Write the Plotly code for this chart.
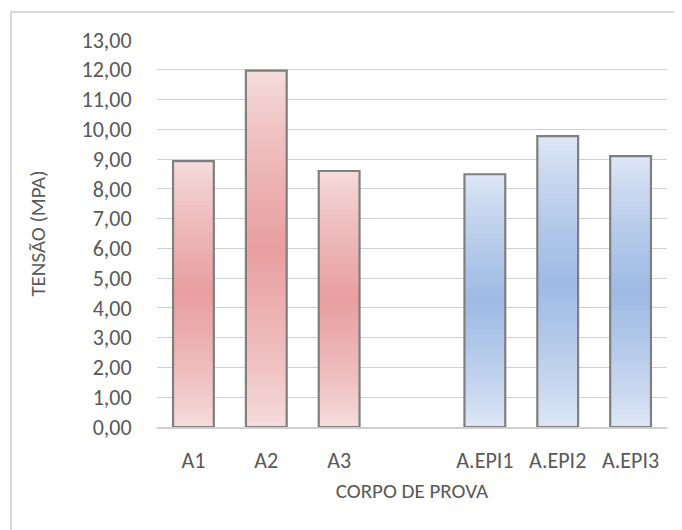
import plotly.graph_objects as go

categories = ["A1", "A2", "A3", " ", "A.EPI1", "A.EPI2", "A.EPI3"]
values = [8.93, 11.97, 8.60, None, 8.49, 9.77, 9.10]
series_group = ["red", "red", "red", None, "blue", "blue", "blue"]
y_ticks = list(range(0, 14))

light = {"red": (246, 222, 222), "blue": (224, 232, 246)}
dark = {"red": (232, 158, 160), "blue": (158, 186, 228)}


def mix(c1, c2, t):
    return "rgb(%d,%d,%d)" % tuple(round(a + (b - a) * t) for a, b in zip(c1, c2))


fig = go.Figure()
N = 60
for k in range(N):
    frac = k / N
    t = 1 - abs(((k + 0.5) / N) - 0.5) * 2  # 0 at ends, 1 in middle
    t = t ** 0.8
    bases, heights, colors = [], [], []
    for v, g in zip(values, series_group):
        if v is None:
            bases.append(0)
            heights.append(None)
            colors.append("rgba(0,0,0,0)")
        else:
            bases.append(v * frac)
            heights.append(v * (1 - frac))
            colors.append(mix(light[g], dark[g], t))
    fig.add_trace(go.Bar(
        x=categories, y=heights, base=bases,
        marker=dict(color=colors, line=dict(width=0)),
        hoverinfo="skip", showlegend=False,
    ))

fig.add_trace(go.Bar(
    x=categories, y=values,
    marker=dict(color="rgba(0,0,0,0)", line=dict(color="#7f7f7f", width=2.2)),
    showlegend=False,
))

font_family = "Carlito, Calibri, Lato, sans-serif"
grey = "#595959"
FS = 22
FT = 21

OFF = 8  # page body margin
W, H = 682 - OFF, 530 - OFF
L, T = 157 - OFF, 40 - OFF
R = W - (667 - OFF)
B = H - (427 - OFF)
pw, ph = W - L - R, H - T - B

fig.update_layout(
    width=W, height=H,
    margin=dict(l=L, r=R, t=T, b=B),
    barmode="overlay",
    bargap=0.44,
    separators=",.",
    plot_bgcolor="white",
    paper_bgcolor="white",
    font=dict(family=font_family, size=FS, color=grey),
    xaxis=dict(
        type="category",
        categoryorder="array", categoryarray=categories,
        showgrid=False,
        showline=True, linecolor="#d0d0d0", linewidth=2,
        ticks="outside", ticklen=13, tickcolor="rgba(0,0,0,0)",
        tickfont=dict(size=FS, color=grey),
        title=dict(text="CORPO DE PROVA", standoff=10,
                   font=dict(size=FT, color=grey)),
    ),
    yaxis=dict(
        range=[0, 13], tickvals=y_ticks, tickformat=".2f",
        showgrid=True, gridcolor="#d0d0d0", gridwidth=1.2,
        zeroline=False,
        ticks="outside", ticklen=20, tickcolor="rgba(0,0,0,0)",
        tickfont=dict(size=FS, color=grey),
        title=dict(text="TENSÃO (MPA)", standoff=30,
                   font=dict(size=FT, color=grey)),
    ),
    shapes=[dict(
        type="rect", xref="paper", yref="paper",
        x0=(11 - 157) / pw, x1=(W + 40 - L) / pw,
        y0=-(H + 40 - (427 - OFF)) / ph, y1=(427 - 12) / ph,
        line=dict(color="#d9d9d9", width=2), fillcolor="rgba(0,0,0,0)",
        layer="below",
    )],
)

fig.write_html("out.html")
